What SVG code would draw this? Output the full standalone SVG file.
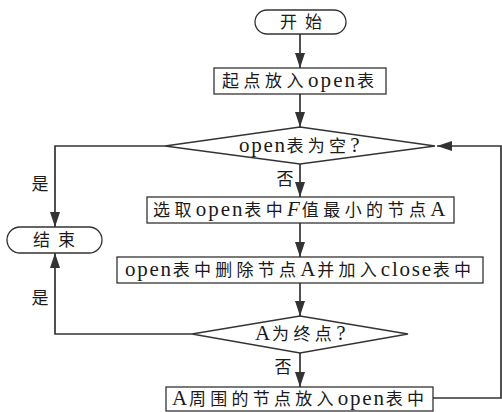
<svg xmlns="http://www.w3.org/2000/svg" width="502" height="412" viewBox="0 0 502 412">
<style>
.shape{fill:#fff;stroke:#333;stroke-width:1.3}
.conn{fill:none;stroke:#333;stroke-width:1.7}
text{font-family:"Liberation Serif","Noto Sans CJK SC",serif;font-size:17px;fill:#1a1a1a}
.c{text-anchor:middle}
.h{font-size:17px;letter-spacing:4px}
.l{font-size:21px;letter-spacing:1.5px}
</style>
<defs>
<marker id="arr" markerUnits="userSpaceOnUse" markerWidth="15" markerHeight="10" refX="15" refY="5" orient="auto">
<path d="M0,0 L15,5 L0,10 z" fill="#333"/>
</marker>
</defs>
<g id="connectors">
<path class="conn" d="M300,34 V68" marker-end="url(#arr)"/>
<path class="conn" d="M300,94 V127" marker-end="url(#arr)"/>
<path class="conn" d="M165,146 H55 V227" marker-end="url(#arr)"/>
<path class="conn" d="M300,164 V197" marker-end="url(#arr)"/>
<path class="conn" d="M300,223 V257" marker-end="url(#arr)"/>
<path class="conn" d="M300,283 V316" marker-end="url(#arr)"/>
<path class="conn" d="M192,334 H55 V253" marker-end="url(#arr)"/>
<path class="conn" d="M300,353 V387" marker-end="url(#arr)"/>
<path class="conn" d="M433,398 H501 V146 H437" marker-end="url(#arr)"/>
<text x="40" y="190" class="c">是</text>
<text x="285" y="185" class="c">否</text>
<text x="40" y="304" class="c">是</text>
<text x="283" y="373" class="c">否</text>
</g>
<g id="start">
<rect class="shape" x="255" y="10" width="91" height="24" rx="12"/>
<text x="301" y="28" class="c" textLength="42" lengthAdjust="spacing">开始</text>
</g>
<g id="init">
<rect class="shape" x="214" y="68" width="172" height="26"/>
<text x="300" y="87" class="c" textLength="156" lengthAdjust="spacing"><tspan class="h">起点放入</tspan><tspan class="l">open</tspan><tspan class="h">表</tspan></text>
</g>
<g id="empty">
<polygon class="shape" points="300,127 435,146 300,164 165,146"/>
<text x="300" y="152" class="c" textLength="122" lengthAdjust="spacing"><tspan class="l">open</tspan><tspan class="h">表为空</tspan><tspan class="l">?</tspan></text>
</g>
<g id="select">
<rect class="shape" x="147" y="197" width="307" height="26"/>
<text x="300" y="216" class="c" textLength="294" lengthAdjust="spacing"><tspan class="h">选取</tspan><tspan class="l">open</tspan><tspan class="h">表中</tspan><tspan class="l" font-style="italic">F</tspan><tspan class="h">值最小的节点</tspan><tspan class="l">A</tspan></text>
</g>
<g id="end">
<rect class="shape" x="7" y="227" width="95" height="26" rx="13"/>
<text x="54" y="246" class="c" textLength="42" lengthAdjust="spacing">结束</text>
</g>
<g id="move">
<rect class="shape" x="117" y="257" width="366" height="26"/>
<text x="300" y="276" class="c" textLength="350" lengthAdjust="spacing"><tspan class="l">open</tspan><tspan class="h">表中删除节点</tspan><tspan class="l">A</tspan><tspan class="h">并加入</tspan><tspan class="l">close</tspan><tspan class="h">表中</tspan></text>
</g>
<g id="goal">
<polygon class="shape" points="300,316 408,334 300,353 192,334"/>
<text x="301" y="340" class="c" textLength="92" lengthAdjust="spacing"><tspan class="l">A</tspan><tspan class="h">为终点</tspan><tspan class="l">?</tspan></text>
</g>
<g id="expand">
<rect class="shape" x="166" y="387" width="267" height="24"/>
<text x="300" y="405" class="c" textLength="256" lengthAdjust="spacing"><tspan class="l">A</tspan><tspan class="h">周围的节点放入</tspan><tspan class="l">open</tspan><tspan class="h">表中</tspan></text>
</g>
</svg>
